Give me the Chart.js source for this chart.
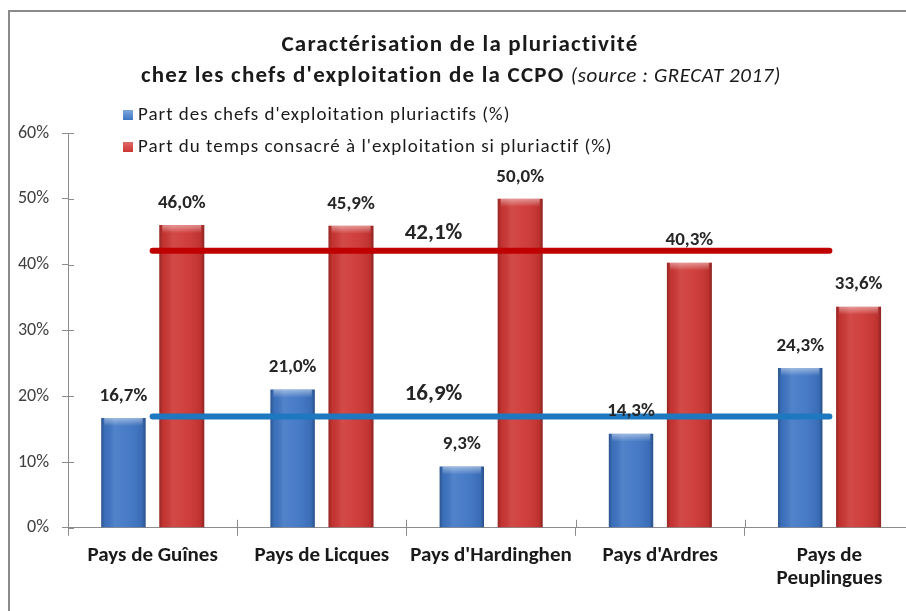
<!DOCTYPE html>
<html><head><meta charset="utf-8">
<script src="https://cdn.jsdelivr.net/npm/chart.js@4.4.1/dist/chart.umd.min.js"></script>
<style>
html,body{margin:0;padding:0;background:#fff;overflow:hidden;width:906px;height:611px;}
#frame{position:absolute;left:8px;top:10px;width:1000px;height:1000px;border-left:2px solid #8a8a8a;border-top:2px solid #8a8a8a;}
#wrap{position:absolute;left:0;top:0;width:920px;height:611px;}
</style></head>
<body>
<div id="frame"></div>
<div id="wrap"><canvas id="c" width="920" height="611"></canvas></div>
<script>
// ---- data ----
const categories = ["Pays de Guînes", "Pays de Licques", "Pays d'Hardinghen", "Pays d'Ardres", ["Pays de", "Peuplingues"]];
const seriesNames = ["Part des chefs d'exploitation pluriactifs (%)", "Part du temps consacré à l'exploitation si pluriactif (%)"];
const partChefs = [16.7, 21.0, 9.3, 14.3, 24.3];
const partTemps = [46.0, 45.9, 50.0, 40.3, 33.6];
const moyenneChefs = [16.9, 16.9, 16.9, 16.9, 16.9];
const moyenneTemps = [42.1, 42.1, 42.1, 42.1, 42.1];
const yTickValues = [0, 10, 20, 30, 40, 50, 60];
const titleLine1 = "Caractérisation de la pluriactivité";
const titleLine2Bold = "chez les chefs d'exploitation de la CCPO";
const titleLine2Italic = "(source : GRECAT 2017)";

const FONT = "Carlito, 'Liberation Sans Narrow', 'DejaVu Sans Condensed', 'Open Sans', sans-serif";
const fmt = v => v.toFixed(1).replace('.', ',') + '%';

const BLUE = '#3e75c4', RED = '#cd3633';
const BLUE_LINE = '#1d78c0', RED_LINE = '#c00000';

const decor = {
  id: 'decor',
  afterDatasetDraw(chart, args) {
    const ds = chart.data.datasets[args.index];
    if (ds.type === 'line') return;
    const ctx = chart.ctx;
    args.meta.data.forEach(el => {
      const x0 = el.x - el.width / 2, w = el.width, top = el.y, h = el.base - el.y;
      const g = ctx.createLinearGradient(x0, 0, x0 + w, 0);
      g.addColorStop(0, 'rgba(0,0,0,0.28)');
      g.addColorStop(0.08, 'rgba(0,0,0,0.05)');
      g.addColorStop(0.3, 'rgba(255,255,255,0.10)');
      g.addColorStop(0.6, 'rgba(255,255,255,0.05)');
      g.addColorStop(0.92, 'rgba(0,0,0,0.08)');
      g.addColorStop(1, 'rgba(0,0,0,0.32)');
      ctx.save();
      ctx.fillStyle = g;
      ctx.fillRect(x0, top, w, h);
      const g2 = ctx.createLinearGradient(0, top, 0, top + 8);
      g2.addColorStop(0, 'rgba(255,255,255,0.45)');
      g2.addColorStop(1, 'rgba(255,255,255,0)');
      ctx.fillStyle = g2;
      ctx.fillRect(x0 + 3, top, w - 6, Math.min(8, h));
      ctx.restore();
    });
  },
  afterDraw(chart) {
    const ctx = chart.ctx;
    const xs = chart.scales.x, ys = chart.scales.y;
    const ca = chart.chartArea;
    ctx.save();
    // inner tick marks
    ctx.strokeStyle = '#8c8c8c'; ctx.lineWidth = 1;
    yTickValues.forEach(v => {
      const y = Math.round(ys.getPixelForValue(v)) + 0.5;
      ctx.beginPath(); ctx.moveTo(ca.left, y); ctx.lineTo(ca.left + 6, y); ctx.stroke();
    });
    for (let i = 1; i < categories.length; i++) {
      const x = Math.round(xs.getPixelForValue(i - 0.5)) + 0.5;
      ctx.beginPath(); ctx.moveTo(x, ca.bottom - 8); ctx.lineTo(x, ca.bottom); ctx.stroke();
    }
    // title
    ctx.fillStyle = '#1a1a1a';
    ctx.textBaseline = 'middle';
    ctx.textAlign = 'center';
    ctx.letterSpacing = '1.2px';
    ctx.font = 'bold 23px ' + FONT;
    ctx.fillText(titleLine1, 460, 45);
    const wb = ctx.measureText(titleLine2Bold + ' ').width;
    ctx.letterSpacing = '0.6px';
    ctx.font = 'italic 21px ' + FONT;
    const wi = ctx.measureText(titleLine2Italic).width;
    let sx = 461 - (wb + wi) / 2;
    ctx.textAlign = 'left';
    ctx.letterSpacing = '1.2px';
    ctx.font = 'bold 23px ' + FONT;
    ctx.fillText(titleLine2Bold + ' ', sx, 76);
    ctx.letterSpacing = '0.6px';
    ctx.font = 'italic 21px ' + FONT;
    ctx.fillText(titleLine2Italic, sx + wb, 77);
    // legend
    const legCols = [BLUE, RED];
    ctx.letterSpacing = '1px';
    ctx.font = '19px ' + FONT;
    seriesNames.forEach((name, i) => {
      const y = 115 + i * 32;
      const g = ctx.createLinearGradient(0, y - 5, 0, y + 5);
      g.addColorStop(0, i ? '#e06a66' : '#7ea6dc');
      g.addColorStop(1, legCols[i]);
      ctx.fillStyle = g;
      ctx.fillRect(123, y - 5, 10, 10);
      ctx.fillStyle = '#1a1a1a';
      ctx.fillText(name, 138, y);
    });
    ctx.letterSpacing = '0px';
    // bar data labels
    ctx.textAlign = 'center';
    ctx.font = 'bold 19px ' + FONT;
    ctx.fillStyle = '#262626';
    [0, 1].forEach(di => {
      chart.getDatasetMeta(di).data.forEach((el, j) => {
        ctx.fillText(fmt(chart.data.datasets[di].data[j]), el.x, el.y - 22);
      });
    });
    // average labels
    ctx.font = 'bold 23px ' + FONT;
    const lx = xs.getPixelForValue(1.66);
    ctx.fillText(fmt(moyenneTemps[0]), lx, ys.getPixelForValue(moyenneTemps[0]) - 18);
    ctx.fillText(fmt(moyenneChefs[0]), lx, ys.getPixelForValue(moyenneChefs[0]) - 22);
    ctx.restore();
  }
};

new Chart(document.getElementById('c'), {
  data: {
    labels: categories,
    datasets: [
      { type: 'bar', label: seriesNames[0], data: partChefs, backgroundColor: BLUE, order: 2,
        categoryPercentage: 0.69, barPercentage: 0.76 },
      { type: 'bar', label: seriesNames[1], data: partTemps, backgroundColor: RED, order: 2,
        categoryPercentage: 0.69, barPercentage: 0.77 },
      { type: 'line', label: 'moyenne temps', data: moyenneTemps, borderColor: RED_LINE, borderWidth: 6,
        pointRadius: 0, borderCapStyle: 'round', order: 0, fill: false },
      { type: 'line', label: 'moyenne chefs', data: moyenneChefs, borderColor: BLUE_LINE, borderWidth: 6,
        pointRadius: 0, borderCapStyle: 'round', order: 0, fill: false }
    ]
  },
  options: {
    responsive: false,
    animation: false,
    layout: { padding: { top: 133, right: 6, bottom: 13, left: 0 } },
    plugins: { legend: { display: false }, tooltip: { enabled: false }, title: { display: false } },
    scales: {
      x: {
        offset: true,
        grid: { offset: true, drawOnChartArea: false, tickLength: 8, color: '#8c8c8c' },
        border: { color: '#8c8c8c' },
        ticks: { padding: 8, color: '#1a1a1a', font: { family: FONT, size: 21, weight: 'bold', lineHeight: 1.1 }, maxRotation: 0, autoSkip: false }
      },
      y: {
        min: 0, max: 60,
        afterBuildTicks: s => { s.ticks = yTickValues.map(v => ({ value: v })); },
        afterFit: s => { s.width = 68; },
        grid: { drawOnChartArea: false, tickLength: 6, color: '#8c8c8c' },
        border: { color: '#8c8c8c' },
        ticks: { padding: 13, color: '#404040', font: { family: FONT, size: 18 }, callback: v => v + '%' }
      }
    }
  },
  plugins: [decor]
});
</script>
</body></html>
